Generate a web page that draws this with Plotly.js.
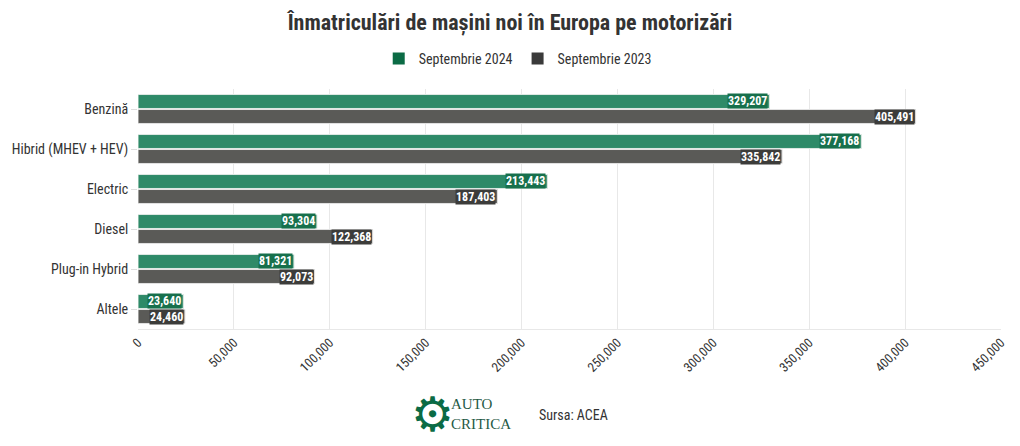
<!DOCTYPE html>
<html><head><meta charset="utf-8">
<script src="https://cdn.plot.ly/plotly-3.0.1.min.js"></script>
<style>body{margin:0;background:#fff}#c{width:1020px;height:446px}</style>
</head><body><div id="c"></div>
<script>
const categories = ["Benzină","Hibrid (MHEV + HEV)","Electric","Diesel","Plug-in Hybrid","Altele"];
const sept2024 = [329207,377168,213443,93304,81321,23640];
const sept2023 = [405491,335842,187403,122368,92073,24460];
const seriesNames = ["Septembrie 2024","Septembrie 2023"];
const FONT = "Roboto Condensed, Liberation Sans Narrow, Roboto, sans-serif";
const fmt = v => v.toLocaleString("en-US");

const traces = [
 {type:"bar",orientation:"h",name:seriesNames[0],y:categories,x:sept2024,
  marker:{color:"#2e8a68",line:{color:"#dfe9e4",width:1}},hoverinfo:"x+name",showlegend:false},
 {type:"bar",orientation:"h",name:seriesNames[1],y:categories,x:sept2023,
  marker:{color:"#5a5a57",line:{color:"#e2e2e2",width:1}},hoverinfo:"x+name",showlegend:false},
 {type:"scatter",mode:"markers",name:seriesNames[0],y:[null],x:[null],marker:{color:"#0b6b45",symbol:"square",size:12},showlegend:true},
 {type:"scatter",mode:"markers",name:seriesNames[1],y:[null],x:[null],marker:{color:"#3a3a3a",symbol:"square",size:12},showlegend:true}
];
const ann = [];
categories.forEach((c,i)=>{
 ann.push({x:sept2024[i],y:c,xref:"x",yref:"y",xanchor:"right",yanchor:"middle",yshift:8,xshift:-1,
   text:"<b>"+fmt(sept2024[i])+"</b>",showarrow:false,bgcolor:"#17704c",borderpad:0,
   font:{family:FONT,size:12,color:"#fff"}});
 ann.push({x:sept2023[i],y:c,xref:"x",yref:"y",xanchor:"right",yanchor:"middle",yshift:-8,xshift:-1,
   text:"<b>"+fmt(sept2023[i])+"</b>",showarrow:false,bgcolor:"#3c3c3a",borderpad:0,
   font:{family:FONT,size:12,color:"#fff"}});
});
ann.push({xref:"paper",yref:"paper",x:0.341,y:-0.355,xanchor:"center",yanchor:"middle",showarrow:false,
  text:"⚙",font:{family:"DejaVu Sans",size:48,color:"#0b6b45"}});
ann.push({xref:"paper",yref:"paper",x:0.36,y:-0.355,xanchor:"left",yanchor:"middle",showarrow:false,align:"left",
  text:"AUTO<br>CRITICA",font:{family:"Liberation Serif, DejaVu Serif, serif",size:15,color:"#1f5a46"}});
ann.push({xref:"paper",yref:"paper",x:0.462,y:-0.36,xanchor:"left",yanchor:"middle",showarrow:false,
  text:"Sursa: ACEA",font:{family:FONT,size:14,color:"#333"}});

const layout = {
 width:1020,height:446,paper_bgcolor:"#fff",plot_bgcolor:"#fff",
 margin:{l:138,r:19,t:89,b:117},
 font:{family:FONT,color:"#333"},
 title:{text:"<b>Înmatriculări de mașini noi în Europa pe motorizări</b>",x:0.5,xanchor:"center",y:0.95,yanchor:"middle",
   font:{family:FONT,size:22,color:"#333"}},
 barmode:"group",bargap:0.25,bargroupgap:0.07,
 showlegend:true,
 legend:{orientation:"h",x:0.44,xanchor:"center",y:1.125,yanchor:"middle",font:{family:FONT,size:14,color:"#333"},
   itemwidth:30,traceorder:"normal"},
 xaxis:{range:[0,450000],tickvals:[0,50000,100000,150000,200000,250000,300000,350000,400000,450000],
   tickformat:",",tickangle:-45,tickfont:{family:FONT,size:13,color:"#333"},
   showgrid:true,gridcolor:"#e8e8e8",zeroline:false,showline:true,linecolor:"#e8e8e8",ticks:"",fixedrange:true},
 yaxis:{autorange:"reversed",tickfont:{family:FONT,size:14,color:"#333"},ticks:"outside",ticklen:6,tickcolor:"#ddd",
   showgrid:false,showline:false,fixedrange:true},
 annotations:ann
};
Plotly.newPlot("c",traces,layout,{displayModeBar:false,staticPlot:true});
</script></body></html>
